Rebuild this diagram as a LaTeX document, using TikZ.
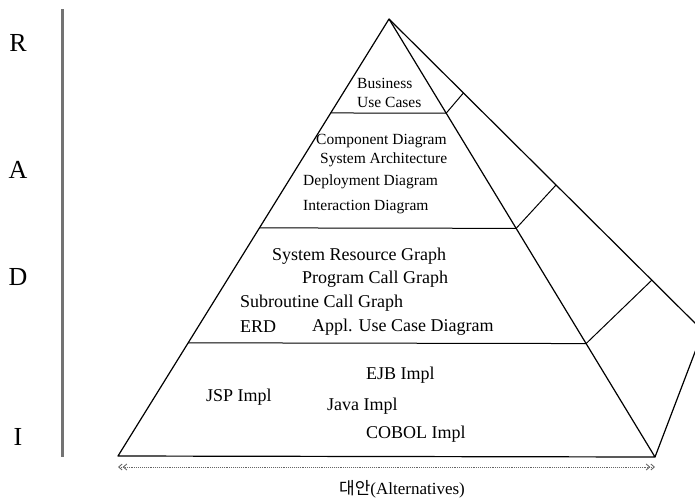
\documentclass[tikz,border=0pt]{standalone}
\usepackage{fontspec}
\setmainfont{Liberation Serif}
\newfontfamily\krfont{Noto Sans CJK KR}
\usetikzlibrary{arrows.meta,calc}

\tikzset{
  edge/.style={line width=1.2pt, line join=round},
  level/.style={line width=1pt},
  phase/.style={font=\fontsize{26}{30}\selectfont, inner sep=0pt},
  upper/.style={anchor=west, inner sep=0pt, font=\fontsize{15.5}{18}\selectfont},
  lower/.style={anchor=west, inner sep=0pt, font=\fontsize{18}{21}\selectfont},
  barb/.tip={Straight Barb[length=3.5pt, width=6pt]Straight Barb[length=3.5pt, width=6pt]},
}

\begin{document}
\begin{tikzpicture}[x=1pt, y=-1pt]

  % ---- frame: pixel coordinates, y downwards ----
  \useasboundingbox (0,0) rectangle (695,501);
  \clip (0,0) rectangle (695,501);

  % phase letters and the gray bar
  \node[phase] (r) at (18,43)  {R};
  \node[phase] (a) at (18,170) {A};
  \node[phase] (d) at (18,277) {D};
  \node[phase] (i) at (18,437) {I};
  \draw[black!55, line width=3pt] (62,9) -- (62,457);

  % ---- pyramid ----
  \coordinate (apex) at (389,19);
  \coordinate (bl)   at (118,456);
  \coordinate (br)   at (655,457);
  \coordinate (bk)   at (703,331);

  \draw[edge] (bl) -- (apex) -- (br) -- cycle;
  \draw[edge] (apex) -- (bk) -- (br);

  % level lines on the front face, dividers on the side face
  \foreach \t/\s [count=\k] in {0.215/0.237, 0.478/0.532, 0.741/0.837} {
    \coordinate (l\k) at ($(apex)!\t!(bl)$);
    \coordinate (r\k) at ($(apex)!\t!(br)$);
    \coordinate (s\k) at ($(apex)!\s!(bk)$);
    \draw[level] (l\k) -- (r\k);
    \draw[level] (r\k) -- (s\k);
  }

  % ---- R: requirements ----
  \node[upper] (biz) at (357,83)  {Business};
  \node[upper] (buc) at (357,102) {Use Cases};

  % ---- A: architecture ----
  \node[upper] (comp) at (316,141) {Component Diagram};
  \node[upper] (arch) at (320,160) {System Architecture};
  \node[upper] (depl) at (303,182) {Deployment Diagram};
  \node[upper] (inter) at (303,207) {Interaction Diagram};

  % ---- D: design ----
  \node[lower] (srg) at (272,256) {System Resource Graph};
  \node[lower] (pcg) at (302,279) {Program Call Graph};
  \node[lower] (scg) at (240,303) {Subroutine Call Graph};
  \node[lower] (erd) at (240,327) {ERD};
  \node[lower] (auc) at (312,327) {Appl. Use Case Diagram};

  % ---- I: implementation ----
  \node[lower] (ejb)   at (366,375) {EJB Impl};
  \node[lower] (jsp)   at (206,397) {JSP Impl};
  \node[lower] (java)  at (327,406) {Java Impl};
  \node[lower] (cobol) at (366,434) {COBOL Impl};

  % ---- alternatives axis ----
  \coordinate (al) at (118,467);
  \coordinate (ar) at (655,467);
  \draw[black!60, densely dotted, line width=0.9pt, {barb}-{barb}] (al) -- (ar);
  \node[inner sep=0pt, font=\fontsize{17}{20}\selectfont] (alt) at (402,489)
    {{\krfont 대안}(Alternatives)};

\end{tikzpicture}
\end{document}
